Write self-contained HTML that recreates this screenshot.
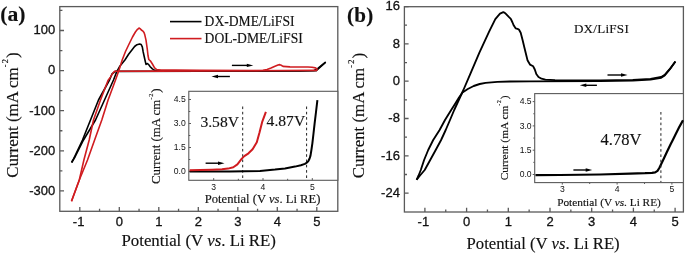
<!DOCTYPE html>
<html><head><meta charset="utf-8">
<style>
html,body{margin:0;padding:0;background:#fff;}
body{width:685px;height:253px;overflow:hidden;position:relative;}
svg{position:absolute;left:0;top:0;will-change:transform;filter:blur(0.3px);}
text{-webkit-font-smoothing:antialiased;}
.tk{font-family:"Liberation Sans",sans-serif;font-size:13px;fill:#111;stroke:#111;stroke-width:0.3px;}
.tks{font-family:"Liberation Sans",sans-serif;font-size:8.6px;fill:#111;}
.sr{font-family:"Liberation Serif",serif;fill:#111;stroke:#111;stroke-width:0.15px;}
</style></head><body>
<svg width="685" height="253" viewBox="0 0 685 253">
<rect x="59.8" y="6.6" width="278" height="204.7" fill="none" stroke="#5a5a5a" stroke-width="1.3"/>
<path d="M79.8 211.3 V207.1 M119.3 211.3 V207.1 M158.8 211.3 V207.1 M198.3 211.3 V207.1 M237.8 211.3 V207.1 M277.3 211.3 V207.1 M316.8 211.3 V207.1 M99.55 211.3 V208.7 M139.05 211.3 V208.7 M178.55 211.3 V208.7 M218.05 211.3 V208.7 M257.55 211.3 V208.7 M297.05 211.3 V208.7 M59.8 30.5 H64 M59.8 70.6 H64 M59.8 110.7 H64 M59.8 150.8 H64 M59.8 190.9 H64 M59.8 10.45 H62.4 M59.8 50.55 H62.4 M59.8 90.65 H62.4 M59.8 130.75 H62.4 M59.8 170.85 H62.4 " stroke="#5a5a5a" stroke-width="1.3" fill="none"/>
<text x="78.6" y="225.7" class="tk" text-anchor="middle">-1</text>
<text x="119.3" y="225.7" class="tk" text-anchor="middle">0</text>
<text x="158.8" y="225.7" class="tk" text-anchor="middle">1</text>
<text x="198.3" y="225.7" class="tk" text-anchor="middle">2</text>
<text x="237.8" y="225.7" class="tk" text-anchor="middle">3</text>
<text x="277.3" y="225.7" class="tk" text-anchor="middle">4</text>
<text x="316.8" y="225.7" class="tk" text-anchor="middle">5</text>
<text x="55.3" y="34.3" class="tk" text-anchor="end">100</text>
<text x="55.3" y="74.4" class="tk" text-anchor="end">0</text>
<text x="55.3" y="114.5" class="tk" text-anchor="end">-100</text>
<text x="55.3" y="154.6" class="tk" text-anchor="end">-200</text>
<text x="55.3" y="194.7" class="tk" text-anchor="end">-300</text>
<rect x="404.4" y="6.7" width="279" height="205.3" fill="none" stroke="#5a5a5a" stroke-width="1.3"/>
<path d="M424.9 212 V207.8 M466.6 212 V207.8 M508.3 212 V207.8 M550 212 V207.8 M591.7 212 V207.8 M633.4 212 V207.8 M675.1 212 V207.8 M445.75 212 V209.4 M487.45 212 V209.4 M529.15 212 V209.4 M570.85 212 V209.4 M612.55 212 V209.4 M654.25 212 V209.4 M404.4 6.56 H408.6 M404.4 43.88 H408.6 M404.4 81.2 H408.6 M404.4 118.52 H408.6 M404.4 155.84 H408.6 M404.4 193.16 H408.6 M404.4 25.22 H407 M404.4 62.54 H407 M404.4 99.86 H407 M404.4 137.18 H407 M404.4 174.5 H407 " stroke="#5a5a5a" stroke-width="1.3" fill="none"/>
<text x="423.4" y="226.1" class="tk" text-anchor="middle">-1</text>
<text x="466.6" y="226.1" class="tk" text-anchor="middle">0</text>
<text x="508.3" y="226.1" class="tk" text-anchor="middle">1</text>
<text x="550" y="226.1" class="tk" text-anchor="middle">2</text>
<text x="591.7" y="226.1" class="tk" text-anchor="middle">3</text>
<text x="633.4" y="226.1" class="tk" text-anchor="middle">4</text>
<text x="675.1" y="226.1" class="tk" text-anchor="middle">5</text>
<text x="399.9" y="9.66" class="tk" text-anchor="end">16</text>
<text x="399.9" y="47.58" class="tk" text-anchor="end">8</text>
<text x="399.9" y="84.9" class="tk" text-anchor="end">0</text>
<text x="399.9" y="122.22" class="tk" text-anchor="end">-8</text>
<text x="399.9" y="159.54" class="tk" text-anchor="end">-16</text>
<text x="399.9" y="196.86" class="tk" text-anchor="end">-24</text>
<rect x="188.8" y="91.3" width="149" height="89" fill="#fff" stroke="#5a5a5a" stroke-width="1.1"/>
<path d="M213.7 180.3 V178.1 M263 180.3 V178.1 M312.3 180.3 V178.1 M238.35 180.3 V178.8 M287.65 180.3 V178.8 M188.8 171.5 H191 M188.8 147.5 H191 M188.8 123.5 H191 M188.8 99.5 H191 M188.8 159.5 H190.3 M188.8 135.5 H190.3 M188.8 111.5 H190.3 " stroke="#5a5a5a" stroke-width="1" fill="none"/>
<text x="213.7" y="189.7" class="tks" text-anchor="middle">3</text>
<text x="263" y="189.7" class="tks" text-anchor="middle">4</text>
<text x="312.3" y="189.7" class="tks" text-anchor="middle">5</text>
<text x="185.8" y="174.2" class="tks" text-anchor="end">0.0</text>
<text x="185.8" y="150.2" class="tks" text-anchor="end">1.5</text>
<text x="185.8" y="126.2" class="tks" text-anchor="end">3.0</text>
<text x="185.8" y="102.2" class="tks" text-anchor="end">4.5</text>
<rect x="534.7" y="93.6" width="148.7" height="89" fill="#fff" stroke="#5a5a5a" stroke-width="1.1"/>
<path d="M562.3 182.6 V184.6 M617.1 182.6 V184.6 M671.9 182.6 V184.6 M589.7 182.6 V184 M644.5 182.6 V184 M534.7 174.5 H532.7 M534.7 150.2 H532.7 M534.7 125.9 H532.7 M534.7 101.6 H532.7 M534.7 162.35 H533.3 M534.7 138.05 H533.3 M534.7 113.75 H533.3 " stroke="#5a5a5a" stroke-width="1" fill="none"/>
<text x="562.3" y="192.4" class="tks" text-anchor="middle">3</text>
<text x="617.1" y="192.4" class="tks" text-anchor="middle">4</text>
<text x="671.9" y="192.4" class="tks" text-anchor="middle">5</text>
<text x="531.6" y="177.2" class="tks" text-anchor="end">0.0</text>
<text x="531.6" y="152.9" class="tks" text-anchor="end">1.5</text>
<text x="531.6" y="128.6" class="tks" text-anchor="end">3.0</text>
<text x="531.6" y="104.3" class="tks" text-anchor="end">4.5</text>
<text x="0.3" y="21.4" class="sr" style="font-weight:bold;font-size:21.6px">(a)</text>
<text x="347.1" y="21.9" class="sr" style="font-weight:bold;font-size:21.1px;letter-spacing:0.2px">(b)</text>
<text class="sr" transform="translate(17.6 115) rotate(-90)" text-anchor="middle" style="font-size:16.85px">Current (mA cm<tspan dy="-9.94" style="font-size:8.43px;letter-spacing:1.18px">-2</tspan><tspan dy="9.94">)</tspan></text>
<text class="sr" transform="translate(363.5 115.5) rotate(-90)" text-anchor="middle" style="font-size:16.85px">Current (mA cm<tspan dy="-9.94" style="font-size:8.43px;letter-spacing:1.18px">-2</tspan><tspan dy="9.94">)</tspan></text>
<text class="sr" transform="translate(160.2 136.2) rotate(-90)" text-anchor="middle" style="font-size:12.85px">Current (mA cm<tspan dy="-7.58" style="font-size:6.42px;letter-spacing:0.9px">-2</tspan><tspan dy="7.58">)</tspan></text>
<text class="sr" transform="translate(507.6 137.9) rotate(-90)" text-anchor="middle" style="font-size:11.4px">Current (mA cm<tspan dy="-6.73" style="font-size:5.7px;letter-spacing:0.8px">-2</tspan><tspan dy="6.73">)</tspan></text>
<text class="sr" x="198.7" y="245.5" text-anchor="middle" style="font-size:16.85px">Potential (V <tspan font-style="italic">vs</tspan>. Li RE)</text>
<text class="sr" x="543.1" y="248.6" text-anchor="middle" style="font-size:16.7px">Potential (V <tspan font-style="italic">vs</tspan>. Li RE)</text>
<text class="sr" x="262.6" y="203" text-anchor="middle" style="font-size:12.6px">Potential (V <tspan font-style="italic">vs</tspan>. Li RE)</text>
<text class="sr" x="609" y="206.1" text-anchor="middle" style="font-size:11.3px">Potential (V <tspan font-style="italic">vs</tspan>. Li RE)</text>
<path d="M170 21.6 H201.5" stroke="#000" stroke-width="1.6"/>
<path d="M170 38.6 H201.5" stroke="#d01c20" stroke-width="1.6"/>
<text class="sr" x="204.6" y="25.8" style="font-size:13.6px">DX-DME/LiFSI</text>
<text class="sr" x="204.6" y="42.8" style="font-size:13.6px">DOL-DME/LiFSI</text>
<text class="sr" x="573.9" y="32.5" style="font-size:13.1px;letter-spacing:0.25px">DX/LiFSI</text>
<text class="sr" x="200.4" y="126.7" style="font-size:15.6px">3.58V</text>
<text class="sr" x="266.6" y="125.6" style="font-size:15.6px">4.87V</text>
<path d="M242.7 106.5 V180 M306.6 106.5 V180" stroke="#222" stroke-width="1" stroke-dasharray="2.6 2.7" fill="none"/>
<path d="M231.9 65.4 H247.8" stroke="#000" stroke-width="1.4"/><path d="M253.3 65.4 L246.8 63.7 L246.8 67.1 Z" fill="#000"/>
<path d="M229.9 76.5 H217" stroke="#000" stroke-width="1.4"/><path d="M211.5 76.5 L218 74.8 L218 78.2 Z" fill="#000"/>
<path d="M205.6 163.2 H219" stroke="#000" stroke-width="1.4"/><path d="M224.5 163.2 L218 161.5 L218 164.9 Z" fill="#000"/>
<path d="M325.7 62.2 L321.5 65.5 L317.6 68.6 L314 70.5 L300 71 L200 71.2 L115.3 71.4 L112 74 L109.5 80 L98.5 100 L90.5 120 L82.5 140 L73 160 L71.6 162.5" stroke="#000" stroke-width="1.6" fill="none" stroke-linejoin="round"/>
<path d="M71.6 162.5 L75 157 L83.5 140 L95.5 120 L104.5 100 L113.5 80 L116.5 72.2 L120 66 L124.9 60 L128.6 54.3 L132.3 49.4 L134.6 46.5 L137 44.7 L139.6 44 L141.2 44.6 L142.3 46.8 L143.2 52 L144.3 57 L145.3 61.5 L146 64.4 L147.4 63.5 L148.7 64.6 L150.2 66.7 L152.4 68.9 L154.6 70.3 L160 70.9 L250 71 L316 70.8 L325.7 62.2" stroke="#000" stroke-width="1.6" fill="none" stroke-linejoin="round"/>
<path d="M317 70.4 L250 70.7 L158 71.1 L114.6 71.3 L112.5 73.7 L110.4 77.1 L108 80.5 L100.5 100 L93.5 120 L89.2 140 L83.9 160 L79.3 180 L71.5 201.2" stroke="#d01c20" stroke-width="1.6" fill="none" stroke-linejoin="round"/>
<path d="M71.5 201.2 L79.3 180 L87.5 160 L94.6 140 L101.8 120 L108.1 100 L115.5 80 L118.7 71 L122.2 60 L125.5 51.5 L128.6 45 L132.5 37 L135.4 32 L137.5 29.3 L139.3 28 L140.3 28.8 L141.3 30 L143 31.2 L144 32.5 L144.8 34.8 L146 40.2 L147.2 48.5 L148 55.5 L148.8 59.5 L150.3 60.8 L152.4 64 L154.6 67.8 L156.7 69.5 L161 70 L175 70 L200 70.3 L257 70.5 L263 70.3 L267 69.5 L271 68 L275 66.2 L278 65 L279.7 64.6 L281.2 65.3 L283 66.4 L290 66.9 L308 67 L312 67.3 L315.5 67.9 L317 68.9 L317 70.4" stroke="#d01c20" stroke-width="1.6" fill="none" stroke-linejoin="round"/>
<path d="M189.6 171.6 L230 171.5 L260 170.9 L275 169.6 L285 168.4 L295 166.6 L300.9 165.2 L304.9 163.9 L307 162.5 L308.5 160.8 L309.6 158.5 L310.5 155.6 L311.4 150 L312.4 143.1 L313.5 133.5 L314.6 123.7 L316 112 L317.4 100.2" stroke="#000" stroke-width="2" fill="none" stroke-linejoin="round"/>
<path d="M189.6 170.3 L200 170.1 L212 169.7 L222 169.2 L228 168.6 L233.3 167.3 L237.4 164.4 L241.6 158.9 L244.3 156.1 L248.5 153.3 L252.6 149.2 L256.8 142.3 L259.5 132.6 L262.3 121.6 L265.9 111.9" stroke="#d01c20" stroke-width="2" fill="none" stroke-linejoin="round"/>
<path d="M535.5 175.2 L560 175 L600 174.5 L630 173.6 L645 173.2 L652 172.8 L655.2 172.3 L657.5 170.8 L659.3 168 L661 164.5 L663.5 159.2 L667 151.8 L670.5 144.5 L672.8 140 L676 133.6 L679.5 126.6 L683 120.2" stroke="#000" stroke-width="2.2" fill="none" stroke-linejoin="round"/>
<path d="M660.9 112 V182" stroke="#222" stroke-width="1" stroke-dasharray="2.6 2.7" fill="none"/>
<text class="sr" x="600.5" y="144.9" style="font-size:16.5px">4.78V</text>
<path d="M573.4 170 H586.7" stroke="#000" stroke-width="1.4"/><path d="M592.2 170 L585.7 168.3 L585.7 171.7 Z" fill="#000"/>
<path d="M416.6 179.8 L420 175.5 L424.7 170 L430.2 160 L435.7 150 L441.1 140 L445.7 130 L450 120 L454.2 110 L458.8 100 L463.4 90 L470 74.6 L479.5 52.4 L489 31.9 L495.3 19.2 L500 13.6 L503.3 12.2 L504.8 12.8 L505.9 13.9 L508.8 16.9 L510.8 18.8 L512.5 22.5 L513.8 25.6 L515.6 28.3 L517.5 28.8 L518.9 29.5 L520.7 32.7 L522.7 40.6 L524.5 48 L526.1 54.5 L527.6 60.6 L530 64.6 L533.2 66.3 L534.8 69.5 L536.3 74 L538.5 77 L541.5 78.7 L545.4 79.6 L555 80.1 L600 80.3 L632.8 79.8 L650.5 78.8 L661.2 77 L664.7 74.9 L670.1 68.7 L675.4 61.5" stroke="#000" stroke-width="1.85" fill="none" stroke-linejoin="round"/>
<path d="M675.4 61.5 L670.1 68.9 L664.7 75.5 L661.2 77.8 L650.5 79.6 L632.8 80.6 L600 81.1 L530 81.4 L510 81.5 L497.4 81.9 L485.6 82.8 L479.7 84 L473.7 86 L467.8 89 L462.5 92.5 L459 97.5 L455 104 L451.2 110 L445 120 L439.6 130 L433.2 140 L428.2 150 L424.1 160 L420.8 170 L418.6 175.5 L416.6 179.8" stroke="#000" stroke-width="1.85" fill="none" stroke-linejoin="round"/>
<path d="M607.5 75 H622" stroke="#000" stroke-width="1.4"/><path d="M627.5 75 L621 73.3 L621 76.7 Z" fill="#000"/>
<path d="M596.9 85.3 H585.3" stroke="#000" stroke-width="1.4"/><path d="M579.8 85.3 L586.3 83.6 L586.3 87 Z" fill="#000"/>
</svg>
</body></html>
